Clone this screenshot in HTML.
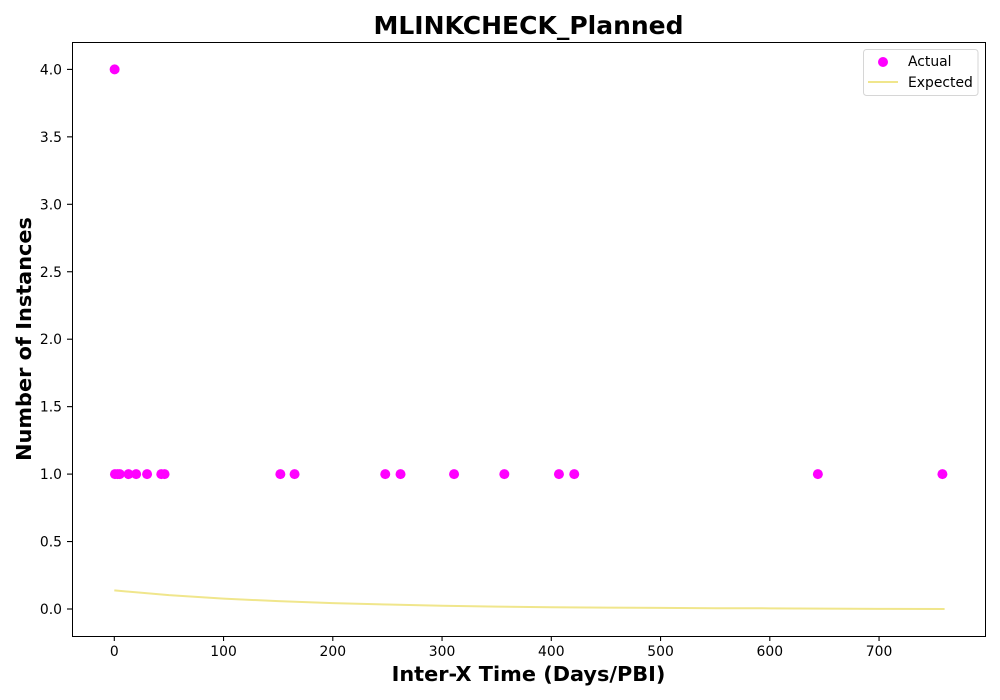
<!DOCTYPE html>
<html lang="en">
<head>
<meta charset="utf-8">
<title>MLINKCHECK_Planned</title>
<style>
html,body{margin:0;padding:0;background:#fff;}
svg{display:block;font-family:"DejaVu Sans","Liberation Sans",sans-serif;}
</style>
</head>
<body>
<svg id="chart" width="1000" height="700" viewBox="0 0 1000 700" xmlns="http://www.w3.org/2000/svg">
  <rect x="72" y="42" width="913" height="594" fill="#fff"/>
  <g id="ticks"></g>
  <polyline id="expected" fill="none" stroke="#f0e68c" stroke-width="2"/>
  <g id="points"></g>
  <rect x="72.5" y="42.5" width="913" height="594" fill="none" stroke="#000" stroke-width="1" shape-rendering="crispEdges"/>
  <text x="528.5" y="34" text-anchor="middle" font-size="25" font-weight="bold">MLINKCHECK_Planned</text>
  <text x="528.5" y="681" text-anchor="middle" font-size="20.83" font-weight="bold">Inter-X Time (Days/PBI)</text>
  <text transform="translate(31,339) rotate(-90)" text-anchor="middle" font-size="20.83" font-weight="bold">Number of Instances</text>
  <g>
    <rect x="863.5" y="49.5" width="114.5" height="46" rx="3" fill="#fff" fill-opacity="0.8" stroke="#d6d6d6" stroke-width="1"/>
    <circle cx="883" cy="62" r="5" fill="#ff00ff"/>
    <text x="908" y="66" font-size="13.9" fill="#000">Actual</text>
    <line x1="868" y1="82" x2="898" y2="82" stroke="#f0e68c" stroke-width="2"/>
    <text x="908" y="87" font-size="13.9" fill="#000">Expected</text>
  </g>
</svg>
<script>
const xTickValues = [0, 100, 200, 300, 400, 500, 600, 700];
const yTickValues = [0, 0.5, 1, 1.5, 2, 2.5, 3, 3.5, 4];
const actualX = [0.3, 0.6, 3, 5, 13, 20, 30, 43, 46, 152, 165, 248, 262, 311, 357, 407, 421, 644, 758];
const actualY = [4, 1, 1, 1, 1, 1, 1, 1, 1, 1, 1, 1, 1, 1, 1, 1, 1, 1, 1];
const expectedX = [0, 50, 100, 150, 200, 250, 300, 350, 400, 450, 500, 550, 600, 650, 700, 760];
const expectedY = [0.138, 0.103, 0.077, 0.058, 0.044, 0.033, 0.024, 0.018, 0.013, 0.01, 0.008, 0.006, 0.005, 0.003, 0.001, 0];

const NS = 'http://www.w3.org/2000/svg';
const xScale = v => 114.3 + v * 1.0925;
const yScale = v => 609 - v * 134.9;

const ticks = document.getElementById('ticks');
xTickValues.forEach(v => {
  const x = xScale(v);
  const mark = document.createElementNS(NS, 'line');
  
  
  mark.setAttribute('x1', x);
  mark.setAttribute('x2', x);
  mark.setAttribute('y1', 636);
  mark.setAttribute('y2', 641);
  mark.setAttribute('stroke', '#000');
  mark.setAttribute('stroke-width', '1.1');
  ticks.appendChild(mark);
  const label = document.createElementNS(NS, 'text');
  
  
  label.setAttribute('x', x);
  label.setAttribute('y', 656);
  label.setAttribute('text-anchor', 'middle');
  label.setAttribute('font-size', '13.9');
  label.textContent = String(v);
  ticks.appendChild(label);
});
yTickValues.forEach(v => {
  const y = yScale(v);
  const mark = document.createElementNS(NS, 'line');
  
  
  mark.setAttribute('x1', 67);
  mark.setAttribute('x2', 72);
  mark.setAttribute('y1', y);
  mark.setAttribute('y2', y);
  mark.setAttribute('stroke', '#000');
  mark.setAttribute('stroke-width', '1.1');
  ticks.appendChild(mark);
  const label = document.createElementNS(NS, 'text');
  
  
  label.setAttribute('x', 62);
  label.setAttribute('y', y + 5);
  label.setAttribute('text-anchor', 'end');
  label.setAttribute('font-size', '13.9');
  label.textContent = v.toFixed(1);
  ticks.appendChild(label);
});

document.getElementById('expected').setAttribute('points',
  expectedX.map((x, i) => xScale(x) + ',' + yScale(expectedY[i])).join(' '));

const points = document.getElementById('points');
actualX.forEach((x, i) => {
  const dot = document.createElementNS(NS, 'circle');
  
  
  dot.setAttribute('cx', xScale(x));
  dot.setAttribute('cy', yScale(actualY[i]));
  dot.setAttribute('r', 5);
  dot.setAttribute('fill', '#ff00ff');
  points.appendChild(dot);
});
</script>
</body>
</html>
